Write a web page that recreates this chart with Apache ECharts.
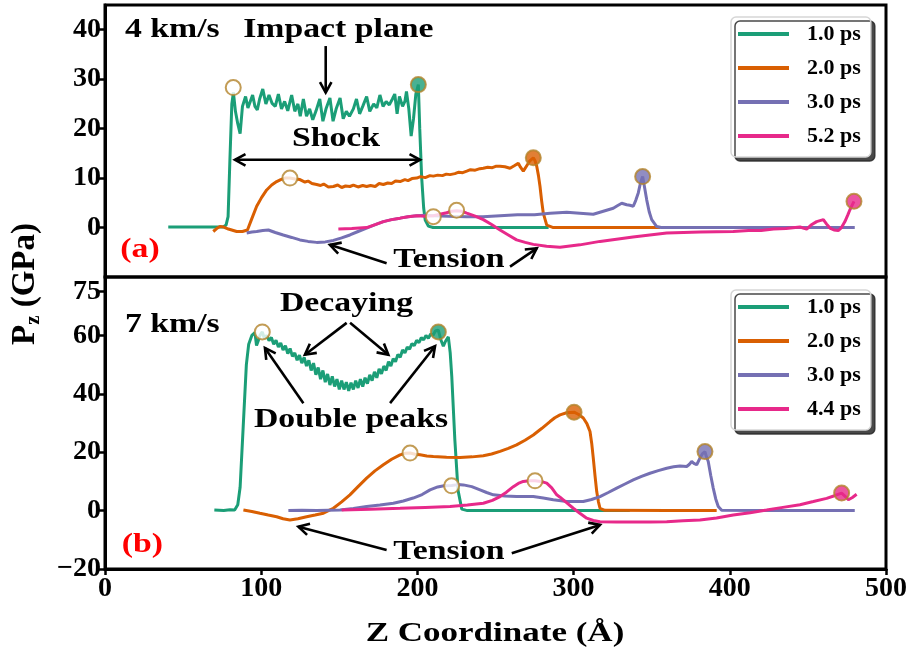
<!DOCTYPE html>
<html><head><meta charset="utf-8">
<script src="https://cdn.jsdelivr.net/npm/echarts@6/dist/echarts.min.js"></script>
<style>html,body{margin:0;padding:0;background:#fff}#c{width:915px;height:661px}</style>
</head><body><div id="c"></div>
<script>
// ---------------- DATA ----------------
const seriesNamesA = ['1.0 ps', '2.0 ps', '3.0 ps', '5.2 ps'];
const seriesNamesB = ['1.0 ps', '2.0 ps', '3.0 ps', '4.4 ps'];
const yTicksA = [0, 10, 20, 30, 40];
const yTicksB = [-20, 0, 20, 40, 60, 75];

// Panel (a): 4 km/s
const a_1ps = [[40.5,0.1],[50,0.1],[60,0.1],[70,0.1],[75.7,0.1],[77.5,0.5],[78.8,2.2],[80,14],[81.2,25],[82.2,27.3],[83.5,23.5],[85,21],[86.5,19],[88,24.5],[90,26.5],[91.5,24.2],[93,25.5],[94.5,26.8],[96,24.5],[97.5,23.8],[99,26],[101,28],[103,25],[105,26.8],[107,25.1],[109,24.5],[111,27],[113,24],[115,25.5],[117,23.6],[119.5,26.8],[121.5,23.5],[123.5,25],[125,22.5],[127,26],[129,22.5],[131,24],[133,21.8],[135,23.5],[137.5,26],[139.5,21.5],[141.5,24],[144,26.2],[146,21.5],[148,24],[150.5,26.2],[152.5,22],[154.5,23.5],[156.5,22.5],[159,24],[161,26],[163,23],[165,24.5],[167.5,26.5],[169.5,23.5],[172,25],[174,24.2],[176,26.8],[178,24.5],[180,25.5],[182,24.8],[184,26],[185.5,27],[187,23],[188.5,26.5],[190.5,24.5],[192,25.5],[193,27.5],[194.5,24],[196,18.5],[197.5,22],[199,27],[200.6,28.9],[201.5,20],[202.7,10.3],[204,4],[205,1.5],[207,0.3],[210,0],[250,0],[284,0]];
const a_2ps = [[69.3,-0.8],[71.5,-0.2],[73.6,0.2],[76,0.1],[79,-0.3],[84.3,-0.8],[88,-0.8],[91.2,-0.5],[94,1.8],[97.1,4.3],[100.3,6.1],[103.5,7.6],[106.7,8.6],[109.9,9.3],[112.5,9.7],[115.2,10],[118.4,10],[121.6,9.8],[124.8,9.7],[128,9.2],[130,9.4],[132.5,8.9],[135.5,8.7],[138,8.5],[140,8.8],[143,8.2],[146.2,8.3],[149,8.6],[151.5,8.1],[154,8.4],[156.8,8.3],[159,8.6],[162,8.2],[165,8.5],[167.5,8.3],[170,8.5],[173,8.3],[175.5,8.9],[178.2,8.7],[181,9.0],[183.5,8.9],[186,9.4],[188.9,9.3],[192,9.7],[194,9.5],[196.5,9.9],[199.5,10],[202,10.3],[205,10.1],[208,10.5],[210.2,10.4],[213,10.6],[216,10.5],[218.5,10.8],[220.9,10.7],[224,10.9],[226.5,11.2],[229,11.1],[231.6,11.4],[234,11.7],[237,11.6],[240,11.9],[242.2,12],[245,12.2],[248,12.1],[250.5,12.4],[252.9,12.4],[256,12.3],[259.3,12],[262,12.5],[264.6,13],[266,12.2],[267.8,11.4],[270,12.5],[272,13.5],[274.2,14.1],[275.3,13.5],[276.4,12.4],[277.5,10.5],[278.5,8.3],[279.5,5.5],[280.6,2.9],[282.8,0.5],[287,0],[320,0],[355.3,0]];
const a_3ps = [[90.7,-1.1],[94,-0.9],[97.1,-0.8],[101,-0.6],[104.6,-0.5],[109,-1],[114.1,-1.5],[119.5,-2],[124.8,-2.5],[130,-2.8],[135.5,-3.0],[141,-2.9],[146.2,-2.6],[151.5,-2.1],[156.8,-1.5],[162,-0.8],[167.5,-0.1],[173,0.6],[178.2,1.2],[183.5,1.6],[188.9,1.9],[194,2.2],[199.5,2.4],[205,2.5],[210.2,2.4],[220,2.3],[231.6,2.2],[242,2.2],[252.9,2.4],[264,2.6],[275,2.6],[285,2.9],[295.6,3.1],[304,2.9],[312.6,2.7],[319,3.3],[325.4,3.9],[328,4.4],[330.8,4.9],[334,4.6],[336,4.5],[338.2,4.3],[339.8,5.5],[341.4,7.0],[342.8,9],[344.2,10.3],[345.5,8],[346.8,5.6],[348.4,3.2],[350,1.6],[353.2,0.2],[356,0],[420,0],[480,0]];
const a_52ps = [[149.4,-0.3],[158,-0.2],[167.5,0],[173,0.6],[178.2,1.2],[183.5,1.6],[188.9,1.9],[194,2.2],[199.5,2.4],[205,2.3],[210.2,2.4],[214.5,2.7],[218.7,3.0],[222,3.3],[225.1,3.4],[228.3,3.3],[231.6,2.9],[237,2.3],[242.2,1.6],[247.5,0.6],[252.9,-0.5],[258.2,-1.5],[263.5,-2.5],[269,-3.0],[274.2,-3.4],[282.7,-3.8],[291.3,-4.0],[304,-3.5],[316.9,-2.8],[338,-1.9],[359.6,-1.1],[381,-0.9],[402.2,-0.8],[412,-0.6],[420,-0.6],[428,-0.3],[436,-0.2],[444.9,0.1],[447,-0.1],[449.2,-0.3],[452,0.5],[455.6,1.2],[459.9,1.6],[462,0.7],[464.1,-0.1],[466.7,-0.5],[469.4,-0.6],[471.5,0],[473.7,1.2],[475.5,2.5],[476.9,3.6],[479.5,5.3]];
const a_openMarks = [[82.1,28.3],[118.4,10.0],[210.2,2.2],[225.1,3.5]];
const a_peakMarks = [[200.6,28.9],[274.2,14.1],[344.2,10.3],[479.5,5.3]];

// Panel (b): 7 km/s
const b_1ps = [[70,0.2],[76,0],[80,0.3],[83,0.2],[85,2],[86.5,8],[88.5,29],[90.5,50],[92,57],[94,60],[96,61],[97,56.5],[98,58],[99.2,60],[100.7,61.2],[102,59],[103.5,60],[105,58.2],[106.5,59.3],[108,57],[109.5,58.3],[111,56],[112.5,57.4],[114,55],[115.5,56.5],[117,53.8],[118.5,55.5],[120,52.8],[121.5,54],[123,51.5],[124.5,53.2],[126,50.5],[127.5,52.5],[129,49.5],[130.5,51.5],[132,48],[133.5,50.5],[135,46.5],[136.5,49],[138,45],[139.5,48],[141,44],[142.5,46.8],[144,43],[145.5,46],[147,42.5],[148.5,45],[150,41.5],[151.5,44.5],[153,41.5],[154.5,44],[156,41],[157.5,43.8],[159,41.5],[160.5,44.5],[162,42],[163.5,45],[165,42.5],[166.5,45.5],[168,43.5],[169.5,46.5],[171,44.5],[172.5,47.5],[174,45.5],[175.5,48.5],[177,46.8],[178.5,49.5],[180,48],[181.5,51],[183,49.5],[184.5,52],[186,51],[187.5,53.5],[189,52.5],[190.5,55],[192,54],[193.5,56],[195,55.3],[196.5,57.2],[198,56.5],[199.5,58.3],[201,57.5],[202.5,59.2],[204,58.5],[205.5,60],[207,59],[208.5,60.5],[210,60],[211.5,61.5],[213.4,61.8],[215,58.5],[216.6,56.3],[218,58],[219.8,59.5],[221,54],[222,46],[224,24],[226,7],[228.4,0.5],[232,0],[280,0],[336,0]];
const b_2ps = [[88.6,0.2],[94,-0.3],[99.2,-0.9],[104.5,-1.5],[109.9,-2.1],[114,-2.8],[118.4,-3.2],[123.5,-2.8],[129.1,-2.1],[134.5,-1.5],[139.8,-0.9],[143,0],[146.2,0.8],[151.5,3],[156.8,5.4],[162,8.2],[167.5,11.1],[172.8,13.6],[178.2,15.7],[183.5,17.6],[188.9,19.1],[192,19.6],[195.3,19.7],[198.5,19.3],[201.7,19.1],[206,18.7],[210.2,18.5],[218.7,18.3],[227.3,18.2],[235,18.4],[242.2,18.8],[247.5,19.4],[252.9,20.3],[258.2,21.3],[263.5,22.5],[268.9,24.1],[274.2,25.9],[279.5,28.1],[284.9,30.5],[288,31.8],[291.3,32.8],[295.5,33.5],[300.3,33.7],[303,33],[306.2,31.7],[308.5,29.8],[310.5,27.1],[311.6,23],[312.6,18],[313.7,12],[314.8,6.5],[315.9,3],[316.9,0.8],[320,0.1],[360,0],[391.6,0]];
const b_3ps = [[117.4,0],[126,0.1],[135.5,0],[143,0.1],[150.4,0.2],[159,0.7],[167.5,1.4],[176,1.9],[184.6,2.5],[191,3.3],[197.3,4.3],[203,5.5],[208.1,7.1],[213,8.1],[217,8.5],[221.9,8.6],[226,8.9],[229.4,8.8],[234.8,8.2],[240.1,7.1],[244.3,6.2],[248.6,5.4],[256,5],[263.5,4.8],[274.2,4.8],[280.6,4.3],[287,3.7],[295.6,3.1],[306.2,3.1],[311.5,3.8],[316.9,4.8],[322.2,6.2],[327.6,7.7],[332.9,9.1],[338.2,10.5],[343.5,11.7],[348.9,12.8],[354.2,13.7],[359.6,14.5],[364,15],[368.1,15.3],[372.4,15.1],[374,15.8],[375.6,16.8],[377,16.2],[378.8,15.7],[380.9,18],[382.5,19.5],[384.1,20.2],[385,18.5],[386.2,16.8],[387.8,12],[389.4,7.7],[391,4],[392.6,1.4],[394.8,0.1],[420,0],[480,0]];
const b_44ps = [[151.5,0.2],[170,0.5],[188.9,0.8],[205,1.1],[220.9,1.4],[232,1.9],[242.2,2.5],[248,3.5],[252.9,4.8],[257,6.3],[261.4,8.2],[264.6,9.3],[267.8,10],[271.5,10.2],[275.3,10.2],[279,10],[282.8,9.4],[286,7.8],[289.2,5.4],[291.3,4.6],[295.5,2.7],[299.8,0.8],[304,-0.9],[308.4,-2.6],[312.6,-3.4],[316.9,-3.8],[327.5,-3.9],[338.2,-3.9],[349,-3.9],[359.6,-3.8],[370,-3.5],[380.9,-3.2],[391.5,-2.5],[402.2,-1.5],[413,-0.7],[423.6,0.2],[434,1.1],[444.9,2],[453.5,3.1],[462,4.2],[467,5.1],[471.6,6.0],[474,4.8],[475.9,3.7],[478.5,4.5],[481.2,5.6]];
const b_openMarks = [[100.7,61.2],[195.3,19.7],[221.9,8.5],[275.3,10.2]];
const b_peakMarks = [[213.4,61.2],[300.3,33.7],[384.1,20.2],[471.6,6.0]];

// ---------------- STYLE ----------------
const colors = ['#1b9e77', '#d95f02', '#7570b3', '#e7298a'];
const edge = '#b3832a';
const FONT = '"Liberation Serif", serif';

const chart = echarts.init(document.getElementById('c'), null, {renderer: 'canvas'});

function lineSeries(name, data, color, gi) {
  return {type: 'line', name, data, xAxisIndex: gi, yAxisIndex: gi, showSymbol: false, symbol: 'none',
    lineStyle: {color, width: 3}, itemStyle: {color}, z: 3, animation: false, silent: true};
}
function markSeries(data, fills, gi) {
  return {type: 'scatter', name: 'marks' + gi, xAxisIndex: gi, yAxisIndex: gi, symbolSize: 15, z: 5, animation: false, silent: true,
    data: data.map((p, i) => ({value: p, itemStyle: {color: fills ? fills[i] : '#fff', borderColor: edge, borderWidth: 2}}))};
}

const yLabelFmt = v => (v < 0 ? '\u2212' + Math.abs(v) : String(v));
function yAxis(gi, min, max, ticks) {
  return {type: 'value', gridIndex: gi, min, max,
    axisLine: {show: true, onZero: false, lineStyle: {color: '#000', width: 3}},
    axisTick: {show: true, length: 6, inside: false, customValues: ticks, lineStyle: {color: '#000', width: 2.5}},
    axisLabel: {show: true, customValues: ticks, formatter: yLabelFmt, margin: 4, color: '#000', fontFamily: FONT, fontWeight: 'bold', fontSize: 28},
    splitLine: {show: false}};
}
const legendBase = {orient: 'vertical', icon: 'rect', itemWidth: 51, itemHeight: 4, itemGap: 8, padding: [4, 10, 8, 7],
  backgroundColor: '#fff', borderColor: '#d6d6d6', borderWidth: 1.5, borderRadius: 5,
  shadowColor: 'rgba(40,40,40,0.85)', shadowOffsetX: 4, shadowOffsetY: 4, shadowBlur: 0, selectedMode: false,
  textStyle: {fontFamily: FONT, fontWeight: 'bold', fontSize: 22, lineHeight: 26, color: '#000', padding: [0, 0, 0, 13]}};

const option = {
  backgroundColor: '#fff',
  animation: false,
  grid: [
    {left: 105, top: 5, width: 781, height: 272, show: true, borderColor: '#000', borderWidth: 3, backgroundColor: 'transparent'},
    {left: 105, top: 277, width: 781, height: 292, show: true, borderColor: '#000', borderWidth: 3, backgroundColor: 'transparent'}
  ],
  xAxis: [
    {type: 'value', gridIndex: 0, min: 0, max: 500, interval: 100, axisLine: {show: false, onZero: false}, axisTick: {show: false}, axisLabel: {show: false}, splitLine: {show: false}},
    {type: 'value', gridIndex: 1, min: 0, max: 500, interval: 100,
      axisLine: {show: true, onZero: false, lineStyle: {color: '#000', width: 3}},
      axisTick: {show: true, length: 6, lineStyle: {color: '#000', width: 2.5}},
      axisLabel: {margin: 6, color: '#000', fontFamily: FONT, fontWeight: 'bold', fontSize: 28},
      splitLine: {show: false}}
  ],
  yAxis: [yAxis(0, -10, 45, yTicksA), yAxis(1, -20, 80, yTicksB)],
  legend: [
    Object.assign({}, legendBase, {left: 731, top: 17, data: seriesNamesA}),
    Object.assign({}, legendBase, {left: 731, top: 290, data: seriesNamesB})
  ],
  series: [
    lineSeries(seriesNamesA[0], a_1ps, colors[0], 0),
    lineSeries(seriesNamesA[1], a_2ps, colors[1], 0),
    lineSeries(seriesNamesA[2], a_3ps, colors[2], 0),
    lineSeries(seriesNamesA[3], a_52ps, colors[3], 0),
    lineSeries(seriesNamesB[0], b_1ps, colors[0], 1),
    lineSeries(seriesNamesB[1], b_2ps, colors[1], 1),
    lineSeries(seriesNamesB[2], b_3ps, colors[2], 1),
    lineSeries(seriesNamesB[3], b_44ps, colors[3], 1),
    markSeries(a_openMarks, null, 0),
    markSeries(a_peakMarks, colors, 0),
    markSeries(b_openMarks, null, 1),
    markSeries(b_peakMarks, colors, 1)
  ]
};
chart.setOption(option);

// ---------------- ANNOTATIONS (data coordinates of each panel) ----------------
const texts = [
  {g: 0, at: [12.8, 39.9], text: '4 km/s', align: 'left'},
  {g: 0, at: [149.4, 39.9], text: 'Impact plane', align: 'center'},
  {g: 0, at: [147.9, 17.8], text: 'Shock', align: 'center'},
  {g: 0, at: [22.4, -4.5], text: '(a)', align: 'center', color: '#ff0000'},
  {g: 0, at: [220.2, -6.6], text: 'Tension', align: 'center'},
  {g: 1, at: [12.8, 63.7], text: '7 km/s', align: 'left'},
  {g: 1, at: [154.6, 70.6], text: 'Decaying', align: 'center'},
  {g: 1, at: [157.5, 31.1], text: 'Double peaks', align: 'center'},
  {g: 1, at: [24, -11.7], text: '(b)', align: 'center', color: '#ff0000'},
  {g: 1, at: [220.2, -14.2], text: 'Tension', align: 'center'}
];
const arrows = [
  {g: 0, from: [141.3, 36.7], to: [141.3, 27.3]},
  {g: 0, from: [147.9, 13.7], to: [83.2, 13.7]},
  {g: 0, from: [147.9, 13.7], to: [201.7, 13.7]},
  {g: 0, from: [180.3, -7.2], to: [144, -3.5]},
  {g: 0, from: [259.3, -7.9], to: [276.4, -4.2]},
  {g: 1, from: [154.7, 64.3], to: [128, 53.4]},
  {g: 1, from: [156.9, 64.3], to: [181.4, 53.4]},
  {g: 1, from: [127, 36.8], to: [102.4, 55.7]},
  {g: 1, from: [182.5, 36.8], to: [211.3, 56.3]},
  {g: 1, from: [180.3, -13.5], to: [123.8, -5.5]},
  {g: 1, from: [260.4, -14.6], to: [316.9, -4.9]}
];

function px(g, p) { return chart.convertToPixel({gridIndex: g}, p); }
const elements = [];
texts.forEach(t => {
  const p = px(t.g, t.at);
  elements.push({type: 'text', x: p[0], y: p[1], scaleX: 1.25, z: 20,
    style: {text: t.text, fill: t.color || '#000', font: 'bold 27px ' + FONT, textAlign: t.align, textVerticalAlign: 'middle'}});
});
arrows.forEach(a => {
  const p0 = px(a.g, a.from), p1 = px(a.g, a.to);
  const ang = Math.atan2(p1[1] - p0[1], p1[0] - p0[0]);
  const L = 12, w = 0.5;
  const h1 = [p1[0] - L * Math.cos(ang - w), p1[1] - L * Math.sin(ang - w)];
  const h2 = [p1[0] - L * Math.cos(ang + w), p1[1] - L * Math.sin(ang + w)];
  const st = {stroke: '#000', lineWidth: 2.6, fill: null, lineJoin: 'miter', lineCap: 'butt'};
  elements.push({type: 'polyline', z: 19, shape: {points: [p0, p1]}, style: st});
  elements.push({type: 'polyline', z: 19, shape: {points: [h1, p1, h2]}, style: st});
});
// axis titles
elements.push({type: 'text', x: 495, y: 634, scaleX: 1.25, z: 20,
  style: {text: 'Z Coordinate (\u00c5)', fill: '#000', font: 'bold 28px ' + FONT, textAlign: 'center', textVerticalAlign: 'middle'}});
elements.push({type: 'text', x: 25, y: 284, rotation: Math.PI / 2, z: 20,
  style: {text: '{a|P}{b|z}{a| (GPa)}', textAlign: 'center', textVerticalAlign: 'middle',
    rich: {a: {font: 'bold 33px ' + FONT, fill: '#000', lineHeight: 38, verticalAlign: 'middle'},
           b: {font: 'bold 21px ' + FONT, fill: '#000', lineHeight: 38, verticalAlign: 'bottom'}}}});
chart.setOption({graphic: {elements}});
</script>
</body></html>
